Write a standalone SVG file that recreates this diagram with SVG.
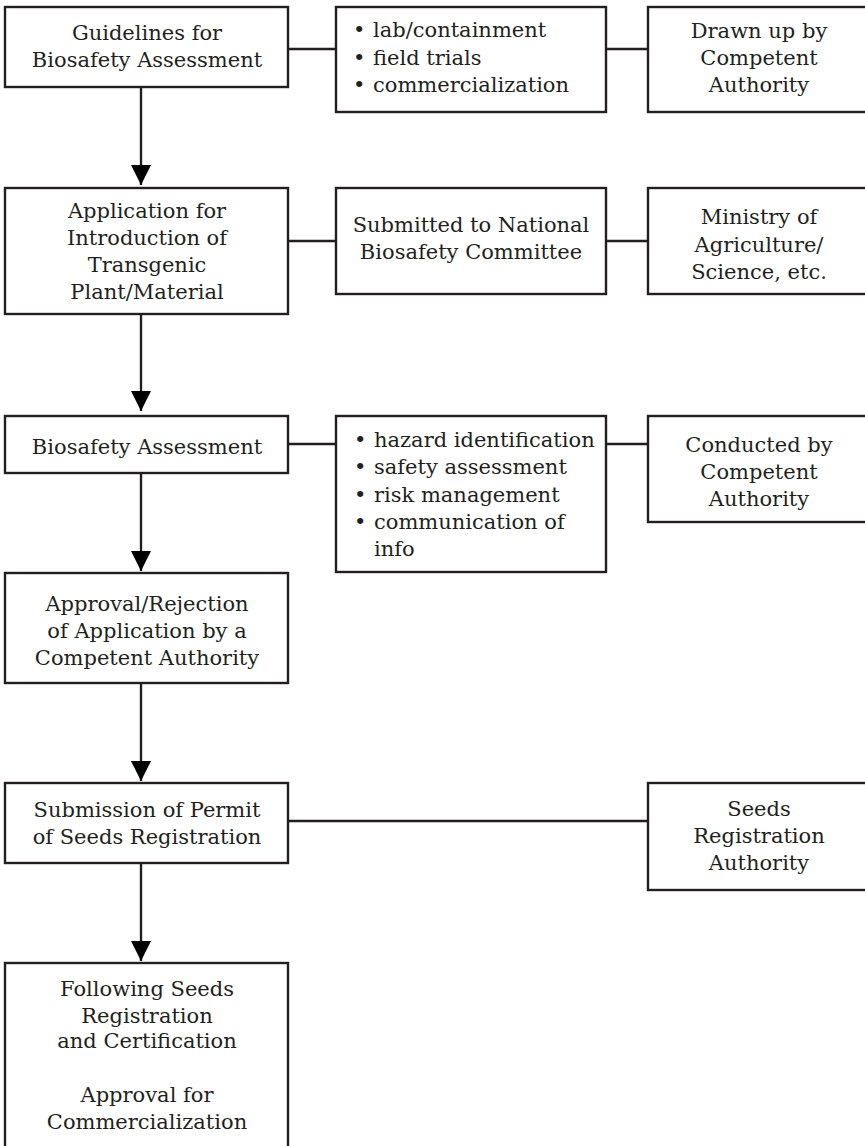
<svg xmlns="http://www.w3.org/2000/svg" width="865" height="1146" viewBox="0 0 865 1146">
<defs>
<style>
.box{fill:#fff;stroke:#231f20;stroke-width:2.4}
.t{font-family:"DejaVu Serif","Liberation Serif",serif;font-size:21px;fill:#231f20;text-anchor:middle}
.l{font-family:"DejaVu Serif","Liberation Serif",serif;font-size:21px;fill:#231f20}
.c{stroke:#231f20;stroke-width:2.4;fill:none}
</style>
<marker id="ah" markerUnits="userSpaceOnUse" markerWidth="20" markerHeight="20" refX="20" refY="10" orient="auto">
<path d="M0,0 L20,10 L0,20 z" fill="#000"/>
</marker>
</defs>
<rect width="865" height="1146" fill="#fff"/>
<g id="connectors">
<line class="c" x1="141" y1="87" x2="141" y2="185" marker-end="url(#ah)"/>
<line class="c" x1="141" y1="314" x2="141" y2="411" marker-end="url(#ah)"/>
<line class="c" x1="141" y1="473" x2="141" y2="571" marker-end="url(#ah)"/>
<line class="c" x1="141" y1="683" x2="141" y2="781" marker-end="url(#ah)"/>
<line class="c" x1="141" y1="863" x2="141" y2="961" marker-end="url(#ah)"/>
<line class="c" x1="288" y1="49" x2="336" y2="49"/>
<line class="c" x1="606" y1="49" x2="648" y2="49"/>
<line class="c" x1="288" y1="241" x2="336" y2="241"/>
<line class="c" x1="606" y1="241" x2="648" y2="241"/>
<line class="c" x1="288" y1="444" x2="336" y2="444"/>
<line class="c" x1="606" y1="444" x2="648" y2="444"/>
<line class="c" x1="288" y1="821" x2="648" y2="821"/>
</g>
<g id="n1">
<rect class="box" x="5" y="7" width="283" height="80"/>
<text class="t" x="147" y="40">Guidelines for</text>
<text class="t" x="147" y="67">Biosafety Assessment</text>
</g>
<g id="n1b">
<rect class="box" x="336" y="7" width="270" height="105"/>
<text class="l" x="353" y="37">•</text><text class="l" x="373" y="37">lab/containment</text>
<text class="l" x="353" y="65">•</text><text class="l" x="373" y="65">field trials</text>
<text class="l" x="353" y="92">•</text><text class="l" x="373" y="92">commercialization</text>
</g>
<g id="n1c">
<rect class="box" x="648" y="7" width="240" height="105"/>
<text class="t" x="759" y="38">Drawn up by</text>
<text class="t" x="759" y="65">Competent</text>
<text class="t" x="759" y="92">Authority</text>
</g>
<g id="n2">
<rect class="box" x="5" y="188" width="283" height="126"/>
<text class="t" x="147" y="218">Application for</text>
<text class="t" x="147" y="245">Introduction of</text>
<text class="t" x="147" y="272">Transgenic</text>
<text class="t" x="147" y="299">Plant/Material</text>
</g>
<g id="n2b">
<rect class="box" x="336" y="188" width="270" height="106"/>
<text class="t" x="471" y="232">Submitted to National</text>
<text class="t" x="471" y="259">Biosafety Committee</text>
</g>
<g id="n2c">
<rect class="box" x="648" y="188" width="240" height="106"/>
<text class="t" x="759" y="224">Ministry of</text>
<text class="t" x="759" y="252">Agriculture/</text>
<text class="t" x="759" y="279">Science, etc.</text>
</g>
<g id="n3">
<rect class="box" x="5" y="416" width="283" height="57"/>
<text class="t" x="147" y="454">Biosafety Assessment</text>
</g>
<g id="n3b">
<rect class="box" x="336" y="416" width="270" height="156"/>
<text class="l" x="354" y="447">•</text><text class="l" x="374" y="447">hazard identification</text>
<text class="l" x="354" y="474">•</text><text class="l" x="374" y="474">safety assessment</text>
<text class="l" x="354" y="502">•</text><text class="l" x="374" y="502">risk management</text>
<text class="l" x="354" y="529">•</text><text class="l" x="374" y="529">communication of</text>
<text class="l" x="374" y="556">info</text>
</g>
<g id="n3c">
<rect class="box" x="648" y="416" width="240" height="106"/>
<text class="t" x="759" y="452">Conducted by</text>
<text class="t" x="759" y="479">Competent</text>
<text class="t" x="759" y="506">Authority</text>
</g>
<g id="n4">
<rect class="box" x="5" y="573" width="283" height="110"/>
<text class="t" x="147" y="611">Approval/Rejection</text>
<text class="t" x="147" y="638">of Application by a</text>
<text class="t" x="147" y="665">Competent Authority</text>
</g>
<g id="n5">
<rect class="box" x="5" y="783" width="283" height="80"/>
<text class="t" x="147" y="817">Submission of Permit</text>
<text class="t" x="147" y="844">of Seeds Registration</text>
</g>
<g id="n5c">
<rect class="box" x="648" y="783" width="240" height="107"/>
<text class="t" x="759" y="816">Seeds</text>
<text class="t" x="759" y="843">Registration</text>
<text class="t" x="759" y="870">Authority</text>
</g>
<g id="n6">
<rect class="box" x="5" y="963" width="283" height="200"/>
<text class="t" x="147" y="996">Following Seeds</text>
<text class="t" x="147" y="1023">Registration</text>
<text class="t" x="147" y="1048">and Certification</text>
<text class="t" x="147" y="1102">Approval for</text>
<text class="t" x="147" y="1129">Commercialization</text>
</g>
</svg>
